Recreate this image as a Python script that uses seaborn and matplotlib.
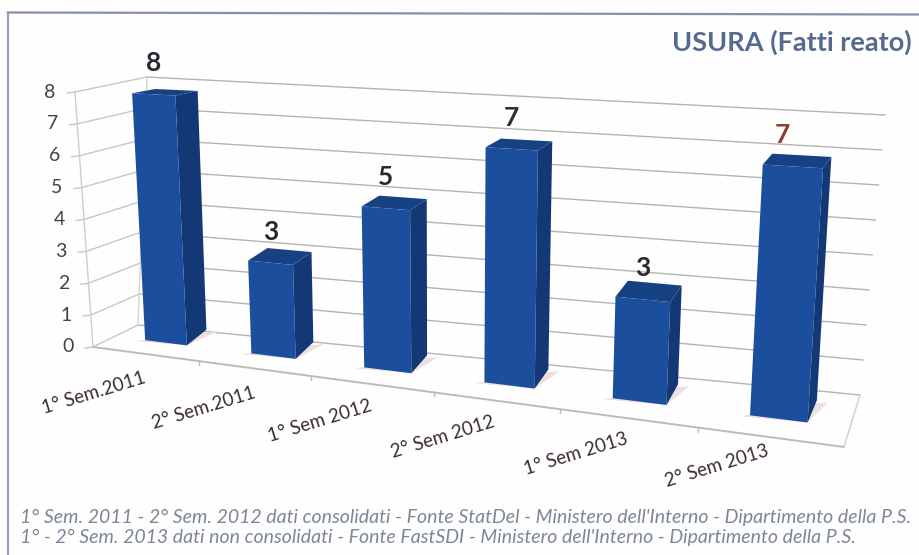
"""USURA (Fatti reato) - pseudo 3D column chart, drawn with a seaborn barplot warped onto a perspective plane."""
import matplotlib
matplotlib.use("Agg")
import matplotlib.pyplot as plt
import numpy as np
import seaborn as sns
from matplotlib.patches import Polygon
from matplotlib.transforms import Affine2D, Transform

categories = ["1° Sem.2011", "2° Sem.2011", "1° Sem 2012", "2° Sem 2012", "1° Sem 2013", "2° Sem 2013"]
fatti = [8, 3, 5, 7, 3, 7]
label_colors = ["#2b2630", "#2b2630", "#2b2630", "#3a2a2c", "#2b2630", "#8f3d36"]
y_ticks = [0, 1, 2, 3, 4, 5, 6, 7, 8]
title = "USURA (Fatti reato)"
note_1 = "1° Sem. 2011 - 2° Sem. 2012 dati consolidati - Fonte StatDel - Ministero dell'Interno - Dipartimento della P.S."
note_2 = "1° - 2° Sem. 2013 dati non consolidati - Fonte FastSDI - Ministero dell'Interno - Dipartimento della P.S."

W, H = 919, 555
FONT = "Lato"
BLUE, BLUE_SIDE, BLUE_TOP = "#1b4f9e", "#143875", "#164283"
GRID = "#b5b3b0"

# calibration: (category, value) -> picture pixel, read from the front faces of the columns
cal_src = [(0, 0), (1, 0), (2, 0), (3, 0), (4, 0), (5, 0), (0, 8), (1, 3), (2, 5), (3, 7), (4, 3), (5, 7)]
cal_dst = [(166, 342), (272, 356), (388, 372), (512, 384), (637, 402), (780, 419),
           (153, 95), (271, 263), (387, 207), (512, 149), (640, 300), (793, 166)]


def fit_plane(src, dst):
    rows = []
    for (x, y), (u, v) in zip(src, dst):
        rows.append([x, y, 1, 0, 0, 0, -u * x, -u * y, -u])
        rows.append([0, 0, 0, x, y, 1, -v * x, -v * y, -v])
    return np.linalg.svd(np.array(rows, float))[2][-1].reshape(3, 3)


def depth_offset(x, y):
    # how far the back of a column sits from its front, in pixels
    t, s = x / 5, y / 8
    dx = (1 - s) * (20 + (10 - 20) * t) + s * (23 + (9 - 23) * t)
    dy = (1 - s) * (-15 + (-22 + 15) * t) + s * (-5 + (-9 + 5) * t)
    return dx, dy


class Plane(Transform):
    input_dims = output_dims = 2

    def __init__(self, mat):
        super().__init__()
        self.mat = mat

    def transform_non_affine(self, values):
        pts = np.column_stack([values, np.ones(len(values))]) @ self.mat.T
        return pts[:, :2] / pts[:, 2:]


front_mat = fit_plane(cal_src, cal_dst)
back_dst = [(u + depth_offset(x, y)[0], v + depth_offset(x, y)[1]) for (x, y), (u, v) in zip(cal_src, cal_dst)]
back_mat = fit_plane(cal_src, back_dst)
front_plane, back_plane = Plane(front_mat), Plane(back_mat)

sns.set_theme(style="white")
plt.rcParams["font.family"] = [FONT, "DejaVu Sans"]

fig, ax = plt.subplots(figsize=(W / 100, H / 100), dpi=100)
fig.patch.set_facecolor("#fefefe")
ax.set_position([0, 0, 1, 1])
ax.set_axis_off()

# picture pixels, y pointing down
px = Affine2D().scale(1 / W, -1 / H).translate(0, 1) + fig.transFigure

sns.barplot(x=list(range(len(fatti))), y=fatti, color=BLUE, saturation=1, width=0.4, ax=ax, zorder=5)
bars = list(ax.patches)
ax.set_xlim(-0.5, 5.5)
ax.set_ylim(0, 8)


def poly(points, **kw):
    ax.add_patch(Polygon(points, closed=True, transform=px, clip_on=False, **kw))


def wall_line(a, b, color=GRID, lw=1.0, z=1):
    ax.plot([a[0], b[0]], [a[1], b[1]], color=color, lw=lw, transform=px, clip_on=False, zorder=z)


# outer frame: only the left and top edges are inside the scan
wall_line((7.5, 12.5), (7.5, 555), color="#98a3b8", lw=1.6, z=0)
wall_line((7.5, 12.5), (919, 14.5), color="#8492a6", lw=1.6, z=0)

# walls and floor
left_top, left_bot = (75, 92), (93, 347)
corner_top, corner_bot = (147, 77), (138, 325)
right_top, right_bot = (885, 115), (860, 395)
front_right = (844, 447)
for v in y_ticks:
    s = v / 8
    a = np.add(np.multiply(left_bot, 1 - s), np.multiply(left_top, s))
    b_pt = np.add(np.multiply(corner_bot, 1 - s), np.multiply(corner_top, s))
    c = np.add(np.multiply(right_bot, 1 - s), np.multiply(right_top, s))
    wall_line(a, b_pt, color="#c9c7c5", lw=1.0)
    wall_line(b_pt, c)
    ax.text(68 - 18 * s, 347 - 255 * s, str(v), color="#4a3f48", fontsize=14, ha="center", va="center",
            transform=px)
    wall_line(a, a - (8, -1), color="#c9c7c5", lw=1.0)
wall_line(left_top, left_bot, color="#cfcdcb", lw=1.0)
wall_line(corner_top, corner_bot, color="#d8d6d4", lw=1.0)
wall_line(left_bot, front_right, color="#bdbbb8", lw=1.4)
wall_line(front_right, right_bot, color="#cfcdcb", lw=1.0)
for t in [199, 311, 434, 560, 698]:
    yy = left_bot[1] + (t - left_bot[0]) * (front_right[1] - left_bot[1]) / (front_right[0] - left_bot[0])
    wall_line((t, yy), (t, yy + 4), color="#bdbbb8", lw=1.0)

# columns: seaborn draws the fronts, the sides, tops and floor shadows follow from the same bars
warp = front_plane + px


def f(x, y):
    return tuple(front_plane.transform_non_affine(np.array([[x, y]]))[0])


def b(x, y):
    return tuple(back_plane.transform_non_affine(np.array([[x, y]]))[0])


for i, bar in enumerate(bars):
    x0, w, v = bar.get_x(), bar.get_width(), bar.get_height()
    x1 = x0 + w
    bar.set_transform(warp)
    bar.set_clip_on(False)
    bar.set_edgecolor("none")
    bar.set_zorder(6)
    poly([f(x1, 0), f(x1, v), b(x1, v), b(x1, 0)], fc=BLUE_SIDE, ec="none", zorder=5)
    poly([f(x0, v), f(x1, v), b(x1, v), b(x0, v)], fc=BLUE_TOP, ec="none", zorder=5)
    sx0, sx1 = f(x0, 0), b(x1, 0)
    poly([(sx0[0] - 9, sx0[1] + 1), f(x1, 0), (sx1[0] + 11, sx1[1] + 2), (sx1[0] - 6, sx1[1] + 3)],
         fc="#ecdfdf", ec="none", zorder=3)
    tx, ty = f(i, v)
    ax.text(tx - (10 if i == 5 else 0), ty - 31, str(fatti[i]), color=label_colors[i], fontsize=19,
            fontweight="bold", ha="center", va="center", transform=px, zorder=8)

# category labels follow the floor edge
label_xy = [(94, 393), (204, 408), (320, 421), (443, 437), (576, 454), (717, 466)]
for name, (lx, ly) in zip(categories, label_xy):
    ax.text(lx, ly, name, color="#3c2c38", fontsize=13.5, rotation=17, rotation_mode="anchor",
            ha="center", va="center", transform=px)

ax.text(912, 42, title, color="#56698f", fontsize=19.5, fontweight="bold", ha="right", va="center", transform=px)
ax.text(20, 517, note_1, color="#7d8798", fontsize=14, style="italic", ha="left", va="center", transform=px)
ax.text(20, 537, note_2, color="#7d8798", fontsize=14, style="italic", ha="left", va="center", transform=px)

fig.savefig("out.png", dpi=100, facecolor=fig.get_facecolor())
plt.close(fig)
